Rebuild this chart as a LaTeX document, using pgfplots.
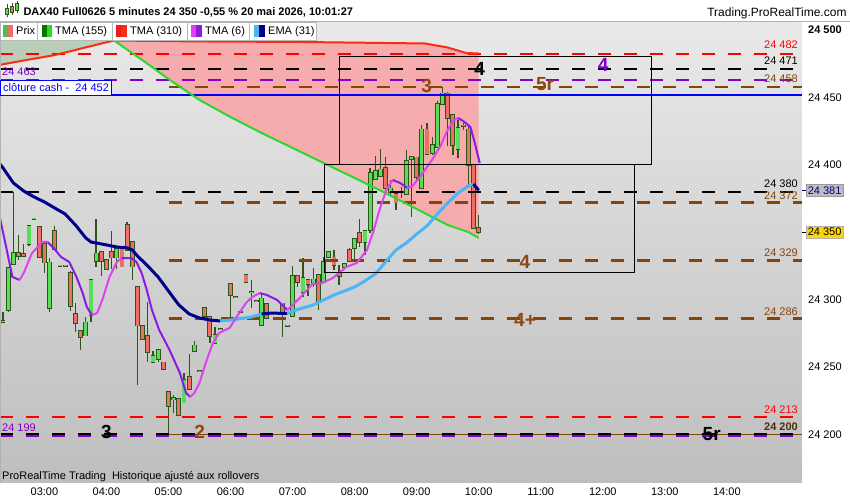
\documentclass[border=0pt]{standalone}
\usepackage{fontspec}
\setmainfont{Liberation Sans}
\usepackage{pgfplots}
\usepackage{pgfplotstable}
\pgfplotsset{compat=1.18}
\usepgfplotslibrary{fillbetween}

\definecolor{bgtop}{RGB}{233,233,233}
\definecolor{bgbot}{RGB}{190,190,190}
\definecolor{upfill}{RGB}{88,222,88}
\definecolor{downfill}{RGB}{236,112,100}
\definecolor{wick}{RGB}{45,85,25}
\definecolor{tmagreen}{RGB}{45,215,45}
\definecolor{tmared}{RGB}{250,45,20}
\definecolor{pinkzone}{RGB}{246,172,172}
\definecolor{greenzone}{RGB}{184,206,184}
\definecolor{emanavy}{RGB}{0,0,140}
\definecolor{emalight}{RGB}{75,182,245}
\definecolor{tmapurple}{RGB}{140,25,230}
\definecolor{tmamagenta}{RGB}{225,65,240}
\definecolor{lvlred}{RGB}{255,0,0}
\definecolor{lvlpurple}{RGB}{130,0,200}
\definecolor{lvlbrown}{RGB}{135,68,10}
\definecolor{lvlblue}{RGB}{0,0,255}
\definecolor{txtbrown}{RGB}{140,72,20}
\definecolor{darkbrown}{RGB}{80,45,10}
\definecolor{framegray}{RGB}{175,175,175}
\definecolor{lastgray}{RGB}{190,190,190}
\definecolor{lastyellow}{RGB}{255,215,0}
\definecolor{icongreen}{RGB}{80,190,80}
\definecolor{icondkgreen}{RGB}{0,120,0}
\definecolor{icondkred}{RGB}{230,30,30}

\newcommand\fsz[1]{\fontsize{#1}{#1}\selectfont}

% 5-minute candles: minute of day, open, high, low, close
\pgfplotstableread{
m o h l c
140 24283.5 24291.0 24283.0 24283.9
145 24292.2 24324.0 24291.0 24323.2
150 24326.4 24380.0 24326.0 24334.8
155 24334.8 24347.9 24329.3 24332.3
160 24333.8 24341.2 24331.3 24332.3
165 24341.0 24355.0 24340.0 24354.6
170 24359.8 24360.3 24359.5 24360.2
175 24354.1 24354.5 24331.0 24331.3
180 24341.0 24341.5 24320.0 24327.4
185 24293.5 24330.8 24291.0 24327.6
190 24351.1 24354.6 24337.0 24337.5
195 24324.9 24325.3 24324.6 24325.3
200 24324.9 24325.3 24324.6 24325.3
205 24319.5 24321.4 24291.5 24295.2
210 24289.1 24297.2 24276.1 24282.4
215 24276.9 24277.5 24262.6 24272.0
220 24273.2 24287.3 24273.0 24283.1
225 24288.5 24315.0 24283.6 24314.5
230 24328.8 24359.5 24324.4 24334.3
235 24335.1 24335.5 24317.5 24328.8
240 24329.3 24329.5 24322.0 24322.5
245 24335.1 24350.9 24322.5 24331.1
250 24331.1 24338.0 24322.5 24337.5
255 24337.3 24337.5 24324.0 24324.4
260 24355.3 24357.5 24336.5 24336.8
265 24342.9 24343.5 24314.5 24324.4
270 24309.1 24309.5 24236.6 24280.6
275 24280.6 24281.0 24270.0 24270.5
280 24273.2 24298.2 24253.9 24260.9
285 24253.4 24262.0 24253.0 24258.1
290 24255.9 24263.0 24253.9 24262.6
295 24253.4 24253.5 24248.0 24248.2
300 24231.6 24232.0 24200.0 24221.0
305 24225.8 24229.2 24215.8 24226.9
310 24226.0 24226.5 24214.0 24214.3
315 24223.5 24245.3 24223.0 24240.3
320 24242.8 24259.6 24233.0 24233.4
325 24262.0 24269.2 24262.0 24266.0
330 24246.5 24246.9 24246.3 24246.9
335 24293.5 24294.0 24287.5 24287.8
340 24287.3 24287.5 24267.5 24273.0
345 24267.5 24279.8 24267.0 24273.7
350 24278.1 24278.5 24277.9 24278.5
355 24284.8 24285.2 24284.6 24285.2
360 24311.5 24312.0 24286.1 24303.4
365 24301.4 24301.8 24301.2 24301.8
370 24290.8 24291.2 24290.6 24291.2
375 24318.2 24318.5 24313.0 24313.2
380 24305.1 24314.5 24293.5 24305.5
385 24298.4 24298.8 24298.2 24298.8
390 24281.1 24304.6 24281.0 24300.9
395 24296.7 24297.0 24286.0 24286.1
400 24290.0 24290.4 24289.8 24290.4
405 24290.0 24290.4 24289.8 24290.4
410 24297.2 24297.5 24272.0 24289.8
415 24280.4 24280.8 24280.2 24280.8
420 24287.8 24324.9 24287.5 24317.5
425 24317.5 24318.0 24309.5 24313.2
430 24305.8 24330.6 24302.1 24316.2
435 24314.5 24315.0 24302.9 24311.5
440 24311.5 24323.2 24309.5 24315.0
445 24318.2 24318.5 24292.2 24298.4
450 24313.2 24331.8 24313.0 24328.1
455 24331.3 24335.5 24331.0 24335.1
460 24331.3 24336.8 24321.9 24325.6
465 24319.5 24325.6 24310.8 24317.5
470 24324.2 24327.0 24324.0 24326.4
475 24336.8 24338.0 24328.5 24328.8
480 24338.0 24345.5 24329.3 24344.9
485 24349.2 24360.0 24339.2 24342.9
490 24342.9 24351.5 24333.0 24350.9
495 24351.6 24397.4 24349.2 24393.7
500 24389.2 24406.5 24389.0 24395.4
505 24391.5 24411.5 24391.0 24396.6
510 24397.4 24406.0 24381.3 24382.5
515 24380.0 24388.7 24376.3 24382.5
520 24378.3 24380.0 24366.4 24371.9
525 24379.8 24383.7 24375.1 24380.2
530 24378.1 24411.0 24378.0 24402.8
535 24404.5 24406.5 24361.5 24406.0
540 24405.5 24406.0 24388.7 24390.7
545 24382.5 24429.5 24382.0 24426.3
550 24426.3 24431.2 24407.5 24408.0
555 24408.5 24420.8 24407.2 24414.7
560 24413.4 24447.0 24413.0 24445.1
565 24445.1 24457.9 24445.0 24453.0
570 24453.0 24454.2 24413.9 24434.5
575 24436.9 24437.5 24407.2 24414.7
580 24411.5 24433.2 24404.8 24427.5
585 24428.8 24431.0 24425.8 24429.2
590 24426.3 24428.8 24385.0 24399.8
595 24399.8 24400.0 24352.0 24352.9
600 24353.0 24362.7 24348.5 24350.0
}\candles

% EMA (31)
\pgfplotstableread{
m p
137 24400.5
140 24397.6
150 24386.5
160 24380.5
170 24376.1
180 24372.4
190 24367.9
200 24363.5
210 24355.3
220 24345.7
225 24342.7
230 24342.0
240 24340.5
250 24339.0
260 24338.3
265 24336.8
270 24332.3
280 24324.9
290 24316.7
300 24306.3
310 24296.0
320 24289.3
330 24286.3
340 24284.8
350 24284.1
360 24284.8
370 24285.9
380 24287.0
390 24289.3
400 24290.0
410 24289.7
415 24289.7
420 24291.5
430 24293.7
440 24296.0
450 24299.7
460 24303.4
470 24306.3
480 24309.3
490 24313.8
500 24319.0
510 24327.9
520 24336.8
530 24342.0
540 24348.6
550 24354.6
560 24363.5
570 24371.6
580 24379.0
590 24384.2
595 24385.7
600 24381.0
}\emaline

% TMA (6)
\pgfplotstableread{
m p
137 24360.5
143 24339.0
149 24316.8
156 24314.5
160 24319.7
168 24334.5
178 24342.7
183 24342.7
189 24338.2
196 24331.6
204 24327.9
211 24316.8
217 24304.8
221 24294.5
226 24288.5
231 24290.0
236 24299.7
243 24316.8
250 24327.9
255 24330.8
264 24330.8
269 24327.9
274 24319.7
279 24307.1
284 24292.2
291 24277.4
301 24262.6
311 24245.5
317 24230.7
321 24227.7
325 24230.7
330 24238.1
337 24255.2
343 24267.8
349 24275.2
359 24278.9
366 24287.1
375 24297.5
381 24301.9
388 24304.8
395 24303.4
405 24299.7
410 24296.0
415 24292.2
420 24296.0
427 24301.2
434 24307.1
439 24311.5
449 24312.3
459 24316.0
472 24324.2
482 24327.1
492 24336.8
498 24350.1
504 24366.4
511 24382.0
517 24388.7
524 24386.5
531 24382.8
536 24384.2
543 24390.9
550 24398.3
556 24405.0
563 24413.9
569 24424.3
575 24432.5
580 24434.7
585 24432.5
592 24428.0
596 24416.9
601 24401.3
}\tmasix

% TMA (310)
\pgfplotstableread{
m p
136 24474.0
160 24477.4
190 24481.4
220 24487.1
247 24492.2
330 24491.5
430 24491.1
548 24490.0
570 24487.0
588 24482.9
600 24482.6
}\tmalong

% TMA (155)
\pgfplotstableread{
m p
136 24552.0
247 24492.4
280 24474.8
300 24463.6
330 24448.1
360 24435.4
390 24423.6
420 24412.5
450 24401.3
480 24390.2
510 24379.0
540 24367.2
570 24355.3
590 24350.1
600 24345.7
}\tmamid

\begin{document}
\begin{tikzpicture}
% white page only outside the plotting area (the plot has its own shaded background)
\fill[white] (802pt,0pt) rectangle (850pt,478.5pt);
\fill[white] (0pt,0pt) rectangle (802pt,17pt);
\begin{axis}[
  at={(0pt,17pt)}, anchor=south west,
  scale only axis, width=802pt, height=461pt,
  xmin=137.04, xmax=912.67, ymin=24163.87, ymax=24505.94,
  clip mode=individual,
  scaled x ticks=false, scaled y ticks=false,
  axis x line*=bottom, axis y line*=right,
  axis line style={draw=framegray, line width=0.8pt, -},
  axis background/.style={shade, top color=bgtop, bottom color=bgbot},
  tick align=outside, major tick length=4pt,
  tick style={black!45, line width=0.6pt},
  xtick={180,240,...,900},
  xticklabels={03:00,04:00,05:00,06:00,07:00,08:00,09:00,10:00,11:00,12:00,13:00,14:00,{}},
  ytick={24200,24250,...,24500},
  yticklabels={24 200,24 250,24 300,24 350,24 400,24 450,\textbf{24 500}},
  ticklabel style={font=\fsz{11}, inner sep=0pt, text=black},
  xticklabel style={yshift=-1pt},
  yticklabel style={xshift=2pt},
]
% band between the two long averages
\addplot[draw=none, name path=R, forget plot] table[x=m,y=p]{\tmalong};
\addplot[draw=none, name path=G, forget plot] table[x=m,y=p]{\tmamid};
\addplot[greenzone, forget plot] fill between[of=R and G, soft clip={domain=136:247}];
\addplot[pinkzone, forget plot] fill between[of=R and G, soft clip={domain=247:600}];

% candles: only the error bars are drawn (wick high-low, body open-close)
\pgfplotsset{candle/.style={draw=none, mark=none, forget plot,
  error bars/y dir=minus, error bars/y explicit, error bars/error mark=none}}
% wicks
\addplot[candle, error bars/error bar style={draw=wick, line width=1.3pt}]
  table[x=m, y=h, y error minus expr=\thisrow{h}-\thisrow{l}]{\candles};
% rising bodies
\addplot[candle, restrict expr to domain={\thisrow{c}-\thisrow{o}}{0.01:1000},
  error bars/error bar style={draw=wick, line width=4.8pt, shorten <=-0.8pt, shorten >=-0.8pt}]
  table[x=m, y=c, y error minus expr=\thisrow{c}-\thisrow{o}]{\candles};
\addplot[candle, restrict expr to domain={\thisrow{c}-\thisrow{o}}{0.01:1000},
  error bars/error bar style={draw=upfill, line width=3.2pt}]
  table[x=m, y=c, y error minus expr=\thisrow{c}-\thisrow{o}]{\candles};
% falling bodies
\addplot[candle, restrict expr to domain={\thisrow{o}-\thisrow{c}}{0.01:1000},
  error bars/error bar style={draw=wick, line width=4.8pt, shorten <=-0.8pt, shorten >=-0.8pt}]
  table[x=m, y=o, y error minus expr=\thisrow{o}-\thisrow{c}]{\candles};
\addplot[candle, restrict expr to domain={\thisrow{o}-\thisrow{c}}{0.01:1000},
  error bars/error bar style={draw=downfill, line width=3.2pt}]
  table[x=m, y=o, y error minus expr=\thisrow{o}-\thisrow{c}]{\candles};

% horizontal levels
\pgfplotsset{lvl/.style={line width=2.2pt, dash pattern=on 13pt off 13pt, forget plot}}
\addplot[lvl, lvlred] coordinates {(137.04,24482) (912.67,24482)};
\addplot[lvl, black] coordinates {(137.04,24471) (912.67,24471)};
\addplot[lvl, lvlpurple] coordinates {(137.04,24463) (912.67,24463)};
\addplot[lvl, lvlbrown] coordinates {(300,24458) (912.67,24458)};
\addplot[lvlblue, line width=2pt, forget plot] coordinates {(137.04,24452) (912.67,24452)};
\addplot[lvl, black] coordinates {(137.04,24380) (912.67,24380)};
\addplot[lvl, lvlbrown] coordinates {(300,24372) (912.67,24372)};
\addplot[lvl, lvlbrown] coordinates {(300,24329) (912.67,24329)};
\addplot[lvl, lvlbrown] coordinates {(300,24286) (912.67,24286)};
\addplot[lvl, lvlred] coordinates {(137.04,24213) (912.67,24213)};
\addplot[lvlbrown, line width=1.6pt, forget plot] coordinates {(300,24200) (912.67,24200)};
\addplot[lvl, lvlpurple] coordinates {(137.04,24199) (912.67,24199)};
\addplot[lvl, black] coordinates {(137.04,24200) (912.67,24200)};

% long averages
\addplot[tmared, line width=2pt, forget plot] table[x=m,y=p]{\tmalong};
\addplot[tmagreen, line width=2pt, forget plot] table[x=m,y=p]{\tmamid};

% EMA (31): dark while falling, light while rising
\pgfplotsset{ema/.style={line width=3pt, forget plot}}
\addplot[ema, emanavy, restrict x to domain=137:350] table[x=m,y=p]{\emaline};
\addplot[ema, emalight, restrict x to domain=350:390] table[x=m,y=p]{\emaline};
\addplot[ema, emanavy, restrict x to domain=390:415] table[x=m,y=p]{\emaline};
\addplot[ema, emalight, restrict x to domain=415:595] table[x=m,y=p]{\emaline};
\addplot[ema, emanavy, restrict x to domain=595:600] table[x=m,y=p]{\emaline};

% TMA (6): violet while falling, magenta while rising
\pgfplotsset{six/.style={line width=2pt, forget plot}}
\addplot[six, tmapurple, restrict x to domain=137:156] table[x=m,y=p]{\tmasix};
\addplot[six, tmamagenta, restrict x to domain=156:183] table[x=m,y=p]{\tmasix};
\addplot[six, tmapurple, restrict x to domain=183:226] table[x=m,y=p]{\tmasix};
\addplot[six, tmamagenta, restrict x to domain=226:255] table[x=m,y=p]{\tmasix};
\addplot[six, tmapurple, restrict x to domain=255:321] table[x=m,y=p]{\tmasix};
\addplot[six, tmamagenta, restrict x to domain=321:388] table[x=m,y=p]{\tmasix};
\addplot[six, tmapurple, restrict x to domain=388:415] table[x=m,y=p]{\tmasix};
\addplot[six, tmamagenta, restrict x to domain=415:517] table[x=m,y=p]{\tmasix};
\addplot[six, tmapurple, restrict x to domain=517:531] table[x=m,y=p]{\tmasix};
\addplot[six, tmamagenta, restrict x to domain=531:580] table[x=m,y=p]{\tmasix};
\addplot[six, tmapurple, restrict x to domain=580:601] table[x=m,y=p]{\tmasix};

% zones
\addplot[black, line width=0.8pt, forget plot] coordinates {(465.6,24480.7) (766.9,24480.7) (766.9,24400.6) (465.6,24400.6) (465.6,24480.7)};
\addplot[black, line width=0.8pt, forget plot] coordinates {(450.3,24400.6) (750.4,24400.6) (750.4,24320.4) (450.3,24320.4) (450.3,24400.6)};

% wave counts
\tikzset{wave/.style={font=\bfseries\fsz{19}, inner sep=0pt}}
\node[wave, text=txtbrown] at (axis cs:549.7,24458.8) {3};
\node[wave, text=black] at (axis cs:600.8,24470.8) {4};
\node[wave, text=txtbrown] at (axis cs:664.1,24460.0) {5r};
\node[wave, text=lvlpurple] at (axis cs:720.4,24474.0) {4};
\node[wave, text=txtbrown] at (axis cs:644.8,24327.9) {4};
\node[wave, text=txtbrown] at (axis cs:644.8,24284.8) {4+};
\node[wave, text=black] at (axis cs:240.0,24201.7) {3};
\node[wave, text=txtbrown] at (axis cs:330.2,24201.7) {2};
\node[wave, text=black] at (axis cs:825.3,24199.9) {5r};

% level values
\tikzset{lvllab/.style={anchor=south east, inner sep=0pt, font=\fsz{11}}}
\node[lvllab, text=lvlred, yshift=5pt] at (axis cs:908.8,24482) {24 482};
\node[lvllab, text=black, yshift=4pt] at (axis cs:908.8,24471) {24 471};
\node[lvllab, text=lvlbrown, yshift=4pt] at (axis cs:908.8,24458) {24 458};
\node[lvllab, text=black, yshift=3.5pt] at (axis cs:908.8,24380) {24 380};
\node[lvllab, text=lvlbrown, yshift=3pt] at (axis cs:908.8,24372) {24 372};
\node[lvllab, text=lvlbrown, yshift=3.5pt] at (axis cs:908.8,24329) {24 329};
\node[lvllab, text=lvlbrown, yshift=3pt] at (axis cs:908.8,24286) {24 286};
\node[lvllab, text=lvlred, yshift=3pt] at (axis cs:908.8,24213) {24 213};
\node[lvllab, text=darkbrown, font=\bfseries\fsz{11}, yshift=3.5pt] at (axis cs:908.8,24200) {24 200};
\end{axis}

\begin{scope}[x=1pt,y=1pt]
% left edge
\draw[black!30, line width=1pt] (0.5,17) -- (0.5,478);
% title bar
\fill[white] (0,478.5) rectangle (850,500);
\draw[black!30, line width=0.8pt] (0,478.5) -- (850,478.5);
\draw[wick, line width=0.7] (7,483) -- (7,496) (12,485) -- (12,497) (17,487) -- (17,499);
\fill[upfill, draw=wick, line width=0.5] (5.5,485.5) rectangle (8.5,492);
\fill[downfill, draw=wick, line width=0.5] (10.5,488) rectangle (13.5,494);
\fill[upfill, draw=wick, line width=0.5] (15.5,490) rectangle (18.5,497);
\node[anchor=base west, inner sep=0pt, font=\bfseries\fsz{11}] at (23.3,484) {DAX40 Full0626 5 minutes 24 350 -0,55 \% 20 mai 2026, 10:01:27};
\node[anchor=base east, inner sep=0pt, font=\fsz{12}] at (846.7,483.5) {Trading.ProRealTime.com};
% legend row
\foreach \a/\b in {0/37.7, 37.7/112, 112/187, 187/249, 249/316.7}{
  \fill[white] (\a,460) rectangle (\b,478);
  \draw[black!28, line width=0.8pt] (\a,460) rectangle (\b,478);
}
\fill[icongreen] (3,463) rectangle (8,475);
\fill[downfill] (8,463) rectangle (13,475);
\fill[icondkgreen] (42,463) rectangle (47,475);
\fill[tmagreen] (47,463) rectangle (52,475);
\fill[icondkred] (116,463) rectangle (121,475);
\fill[tmared] (121,463) rectangle (127,475);
\fill[tmamagenta] (191,463) rectangle (196,475);
\fill[tmapurple] (196,463) rectangle (202,475);
\fill[emalight] (254,463) rectangle (259,475);
\fill[emanavy] (259,463) rectangle (265,475);
\tikzset{leg/.style={anchor=base west, inner sep=0pt, font=\fsz{11}}}
\node[leg] at (16,465) {Prix};
\node[leg] at (55,465) {TMA (155)};
\node[leg] at (130,465) {TMA (310)};
\node[leg] at (205,465) {TMA (6)};
\node[leg] at (268,465) {EMA (31)};
% left tags
\node[anchor=base west, inner sep=0pt, font=\fsz{11}, text=lvlpurple] at (2,424) {24 463};
\node[anchor=base west, inner sep=0pt, font=\fsz{11}, text=lvlpurple] at (2,68) {24 199};
\fill[white] (0,405) rectangle (111,420);
\draw[lvlblue, line width=0.9pt] (0.5,405) rectangle (111,420);
\node[anchor=base west, inner sep=0pt, font=\fsz{11}, text=lvlblue] at (3,408.5) {clôture cash -\ \ 24 452};
% bottom note
\node[anchor=base west, inner sep=0pt, font=\fsz{11}] at (2,20) {ProRealTime Trading\ \ Historique ajusté aux rollovers};
% last values on the price scale
\draw[emanavy, line width=0.8pt] (802,309.6) -- (806,309.6);
\node[anchor=west, fill=lastgray, draw=black!40, line width=0.5pt, inner xsep=1.5pt, inner ysep=2pt, font=\fsz{11}, text=emanavy] at (806,309.6) {24 381};
\draw[black, line width=0.8pt] (802,267.8) -- (806,267.8);
\node[anchor=west, fill=lastyellow, draw=black!30, line width=0.5pt, inner xsep=1.5pt, inner ysep=2pt, font=\fsz{11}] at (806,267.8) {24 350};
\end{scope}
\pgfresetboundingbox
\useasboundingbox (0pt,0pt) rectangle (850pt,500pt);
\end{tikzpicture}
\end{document}
